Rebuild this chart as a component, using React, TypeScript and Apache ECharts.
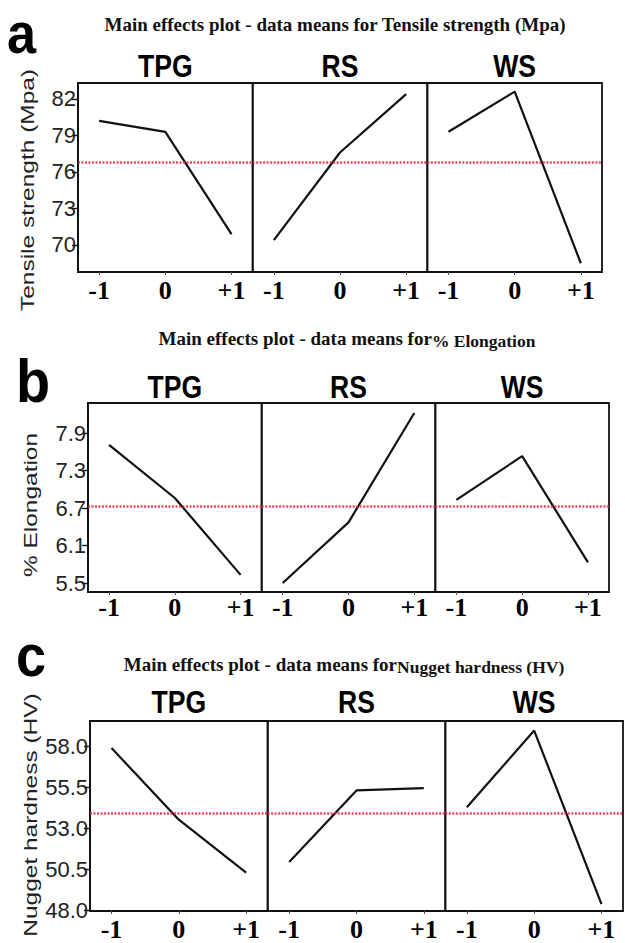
import React, { useEffect, useRef } from 'react';
import * as echarts from 'echarts';

// ---------- data ----------
const levels = [-1, 0, 1];
const levelLabels = ['-1', '0', '+1'];
const factors = ['TPG', 'RS', 'WS'];

const tensileTPG = [80.2, 79.3, 70.9];
const tensileRS = [70.4, 77.6, 82.4];
const tensileWS = [79.3, 82.6, 68.5];
const tensileTicks = [70, 73, 76, 79, 82];

const elongTPG = [7.71, 6.86, 5.63];
const elongRS = [5.5, 6.47, 8.22];
const elongWS = [6.83, 7.53, 5.83];
const elongTicks = [5.5, 6.1, 6.7, 7.3, 7.9];

const hardTPG = [57.9, 53.54, 50.31];
const hardRS = [50.96, 55.32, 55.46];
const hardWS = [54.3, 58.97, 48.4];
const hardTicks = [48.0, 50.5, 53.0, 55.5, 58.0];

const panelLetters = ['a', 'b', 'c'];
const responseNames = ['Tensile strength (Mpa)', '% Elongation', 'Nugget hardness (HV)'];

// ---------- layout / styles ----------
const layouts = [
  { left: 78, right: 602, top: 83, bottom: 272, yMin: 67.78, yMax: 83.31, dec: 0,
    titleY: 24, titleX: 335, facetY: 66, letterY: 33, letterX: 7, letterSize: 58, nameX: 28, nameY: 190, labelMargin: 5 },
  { left: 88, right: 609, top: 403, bottom: 592, yMin: 5.356, yMax: 8.38, dec: 1,
    titleY: 341, titleX: 347, facetY: 387, letterY: 380, letterX: 16, letterSize: 62, nameX: 31, nameY: 505, labelMargin: 2 },
  { left: 90, right: 623, top: 721, bottom: 911, yMin: 47.98, yMax: 59.55, dec: 1,
    titleY: 667, titleX: 344, facetY: 702, letterY: 655, letterX: 16, letterSize: 60, nameX: 31, nameY: 815, labelMargin: 5 },
];

const SANS = '"Liberation Sans", Arial, Helvetica, sans-serif';
const SERIF = '"Liberation Serif", "Times New Roman", serif';
const RED = '#e8234a';

function mean(arrs: number[][]) {
  const all = arrs.flat();
  return all.reduce((s, v) => s + v, 0) / all.length;
}

export default function App() {
  const ref = useRef<HTMLDivElement>(null);
  useEffect(() => {
    if (!ref.current) return;
    const chart = echarts.init(ref.current, null, { renderer: 'svg' });

    const panelData = [
      [tensileTPG, tensileRS, tensileWS],
      [elongTPG, elongRS, elongWS],
      [hardTPG, hardRS, hardWS],
    ];
    const panelTicks = [tensileTicks, elongTicks, hardTicks];

    const grid: any[] = [];
    const xAxis: any[] = [];
    const yAxis: any[] = [];
    const series: any[] = [];
    const graphic: any[] = [];

    panelData.forEach((facets, p) => {
      const L = layouts[p];
      const w = (L.right - L.left) / 3;
      const m = mean(facets);
      facets.forEach((vals, i) => {
        const gi = grid.length;
        grid.push({
          left: L.left + i * w,
          width: w,
          top: L.top,
          height: L.bottom - L.top,
          show: true,
          borderColor: '#111',
          borderWidth: 1.8,
          containLabel: false,
        });
        xAxis.push({
          type: 'value',
          gridIndex: gi,
          min: -1.32,
          max: 1.32,
          axisLine: { show: false },
          splitLine: { show: false },
          axisTick: { show: true, length: 3, customValues: levels, lineStyle: { color: '#555', width: 1 } },
          axisLabel: {
            customValues: levels,
            margin: L.labelMargin,
            formatter: (v: number) => levelLabels[levels.indexOf(Math.round(v))] ?? '',
            fontFamily: SERIF,
            fontWeight: 'bold',
            fontSize: 26,
            color: '#000',
          },
        });
        yAxis.push({
          type: 'value',
          gridIndex: gi,
          min: L.yMin,
          max: L.yMax,
          splitLine: { show: false },
          axisLine: { show: i === 0, onZero: false, lineStyle: { color: '#111', width: 1.8 } },
          axisTick: { show: i === 0, length: 6, customValues: panelTicks[p], lineStyle: { color: '#111', width: 1.4 } },
          axisLabel: {
            show: i === 0,
            customValues: panelTicks[p],
            formatter: (v: number) => v.toFixed(L.dec),
            fontFamily: SANS,
            fontSize: 22,
            color: '#222',
            margin: 2,
          },
        });
        series.push({
          type: 'line',
          xAxisIndex: gi,
          yAxisIndex: gi,
          data: levels.map((x, j) => [x, vals[j]]),
          symbol: 'none',
          lineStyle: { color: '#111', width: 2.2 },
          markLine: {
            silent: true,
            symbol: 'none',
            label: { show: false },
            lineStyle: { color: RED, type: [2, 1.5], width: 2.5, opacity: 0.85 },
            data: [{ yAxis: m }],
          },
        });
        graphic.push({
          type: 'text',
          x: L.left + i * w + w / 2,
          y: L.facetY,
          scaleX: 0.83,
          style: {
            text: factors[i],
            fontFamily: SANS,
            fontWeight: 'bold',
            fontSize: 32,
            fill: '#000',
            align: 'center',
            verticalAlign: 'middle',
          },
        });
      });

      // panel letter
      graphic.push({
        type: 'text',
        x: L.letterX,
        y: L.letterY,
        scaleX: 0.9,
        style: {
          text: panelLetters[p],
          fontFamily: SANS,
          fontWeight: 'bold',
          fontSize: L.letterSize,
          fill: '#000',
          align: 'left',
          verticalAlign: 'middle',
        },
      });

      // title
      graphic.push({
        type: 'text',
        x: L.titleX,
        y: L.titleY,
        style: p === 0
          ? {
              text: 'Main effects plot - data means for ' + responseNames[p],
              fontFamily: SERIF,
              fontWeight: 'bold',
              fontSize: 19,
              fill: '#111',
              align: 'center',
              verticalAlign: 'middle',
            }
          : {
              text: '{a|Main effects plot - data means for}{b|' + responseNames[p] + '}',
              align: 'center',
              verticalAlign: 'middle',
              rich: {
                a: { fontFamily: SERIF, fontWeight: 'bold', fontSize: 19, fill: '#111', verticalAlign: 'top', lineHeight: 24 },
                b: { fontFamily: SERIF, fontWeight: 'bold', fontSize: 17.5, fill: '#111', verticalAlign: 'top', lineHeight: 24, padding: [3, 0, 0, 0] },
              },
            },
      });

      // y axis name
      graphic.push({
        type: 'text',
        x: L.nameX,
        y: L.nameY,
        rotation: Math.PI / 2,
        scaleX: 1.36,
        style: {
          text: responseNames[p],
          fontFamily: SANS,
          fontSize: 18,
          fill: '#222',
          align: 'center',
          verticalAlign: 'middle',
        },
      });
    });

    chart.setOption({
      animation: false,
      backgroundColor: '#fff',
      grid,
      xAxis,
      yAxis,
      series,
      graphic,
    });
    return () => chart.dispose();
  }, []);

  return <div ref={ref} style={{ position: 'fixed', left: 0, top: 0, width: 625, height: 943 }} />;
}
